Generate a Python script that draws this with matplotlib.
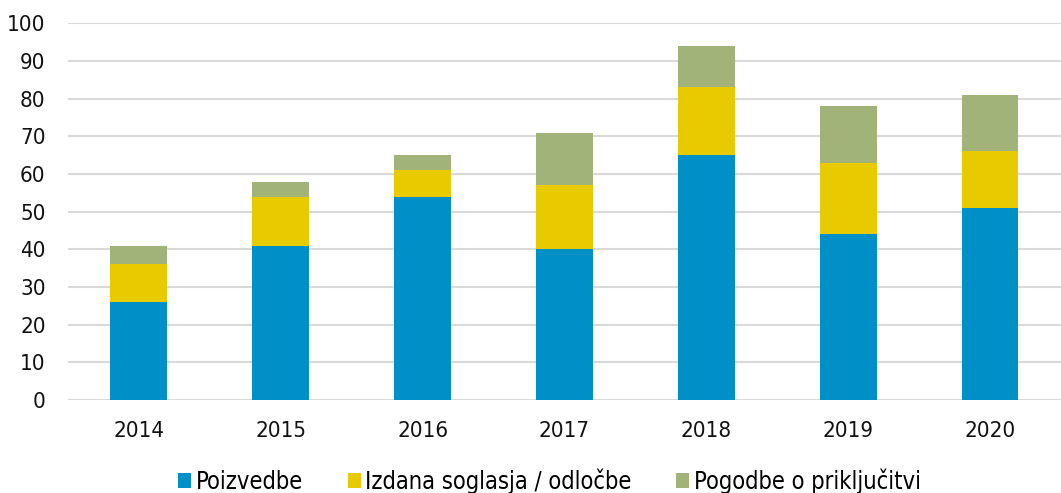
import matplotlib
matplotlib.use("Agg")
import matplotlib.pyplot as plt
import numpy as np

years = ["2014", "2015", "2016", "2017", "2018", "2019", "2020"]
poizvedbe = [26, 41, 54, 40, 65, 44, 51]
soglasja = [10, 13, 7, 17, 18, 19, 15]
pogodbe = [5, 4, 4, 14, 11, 15, 15]
series_names = ["Poizvedbe", "Izdana soglasja / odločbe", "Pogodbe o priključitvi"]
colors = ["#0090C8", "#E8CA00", "#A2B37A"]
yticks = [0, 10, 20, 30, 40, 50, 60, 70, 80, 90, 100]

plt.rcParams['font.family'] = ['DejaVu Sans']
plt.rcParams['font.stretch'] = 'condensed'

fig = plt.figure(figsize=(10.61, 4.93), dpi=100)
ax = fig.add_axes([0.064, 0.1886, 0.936, 0.764])

x = np.arange(len(years))
w = 0.4
b1 = np.array(poizvedbe)
b2 = b1 + np.array(soglasja)
ax.bar(x, poizvedbe, w, color=colors[0], label=series_names[0], zorder=3)
ax.bar(x, soglasja, w, bottom=b1, color=colors[1], label=series_names[1], zorder=3)
ax.bar(x, pogodbe, w, bottom=b2, color=colors[2], label=series_names[2], zorder=3)

ax.set_xlim(-0.5, len(years) - 0.5)
ax.set_ylim(0, 100)
ax.set_yticks(yticks)
ax.set_xticks(x)
ax.set_xticklabels(years)
ax.yaxis.grid(True, color="#D9D9D9", linewidth=1.5, zorder=0)
ax.set_axisbelow(True)
for s in ax.spines.values():
    s.set_visible(False)
ax.tick_params(axis="both", length=0, labelsize=16, colors="#111111")
ax.tick_params(axis="y", pad=16)
ax.tick_params(axis="x", pad=15)
for lbl in ax.get_yticklabels():
    lbl.set_horizontalalignment("right")

ax.legend(loc="upper center", bbox_to_anchor=(0.485, -0.125), ncol=3, frameon=False,
          fontsize=17, handlelength=0.55, handleheight=0.55, handletextpad=0.21,
          columnspacing=1.86)

fig.savefig("out.png", dpi=100)
